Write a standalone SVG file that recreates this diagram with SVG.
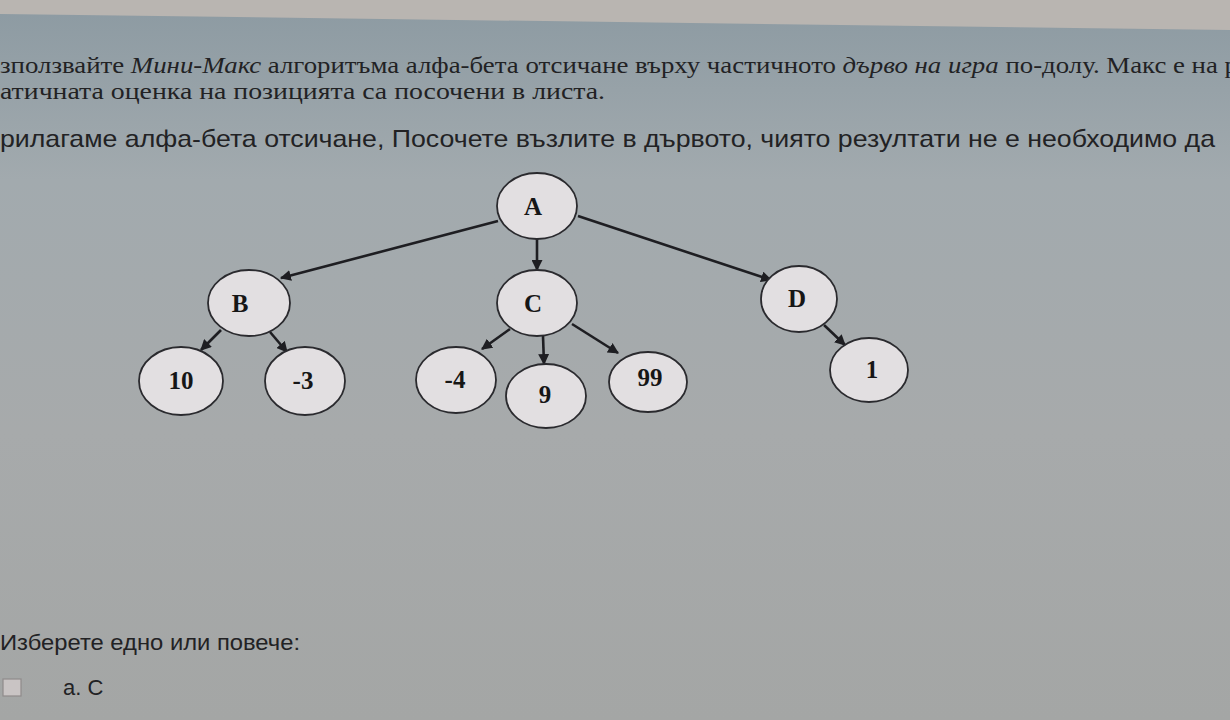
<svg xmlns="http://www.w3.org/2000/svg" width="1230" height="720" viewBox="0 0 1230 720">
  <defs>
    <linearGradient id="bg" x1="0" y1="0" x2="0" y2="1">
      <stop offset="0" stop-color="#8c9aa2"/>
      <stop offset="0.25" stop-color="#a2aaae"/>
      <stop offset="0.6" stop-color="#a7aaab"/>
      <stop offset="1" stop-color="#a4a6a5"/>
    </linearGradient>
    <marker id="arr" viewBox="0 0 10 10" refX="9" refY="5" markerWidth="11" markerHeight="11" markerUnits="userSpaceOnUse" orient="auto">
      <path d="M0,0 L10,5 L0,10 Z" fill="#1e1e22"/>
    </marker>
    <style>
      .node ellipse { fill: #e2dfe1; stroke: #2a2a2e; stroke-width: 1.8; }
      .node text { font-family: "Liberation Serif", "Times New Roman", serif; font-weight: bold; font-size: 25px; fill: #161616; text-anchor: middle; }
      .edge { stroke: #1e1e22; stroke-width: 2.6; fill: none; marker-end: url(#arr); }
      .serif { font-family: "Liberation Serif", "Times New Roman", serif; font-size: 24px; fill: #222224; }
      .sans { font-family: "Liberation Sans", Arial, sans-serif; fill: #222224; }
    </style>
  </defs>

  <rect x="0" y="0" width="1230" height="720" fill="url(#bg)"/>
  <polygon points="0,0 1230,0 1230,30 0,14" fill="#b9b5b1"/>

  <g id="question-text">
    <text class="serif" x="0" y="73" textLength="1238" lengthAdjust="spacingAndGlyphs">зползвайте <tspan font-style="italic">Мини-Макс</tspan> алгоритъма алфа-бета отсичане върху частичното <tspan font-style="italic">дърво на игра</tspan> по-долу. Макс е на р</text>
    <text class="serif" x="0" y="99" textLength="605" lengthAdjust="spacingAndGlyphs">атичната оценка на позицията са посочени в листа.</text>
    <text class="sans" x="0" y="147" font-size="24" textLength="1215" lengthAdjust="spacingAndGlyphs">рилагаме алфа-бета отсичане, Посочете възлите в дървото, чиято резултати не е необходимо да</text>
  </g>

  <g id="connectors">
    <line class="edge" x1="498" y1="221" x2="281" y2="278"/>
    <line class="edge" x1="537" y1="239" x2="537" y2="270"/>
    <line class="edge" x1="578" y1="216" x2="771" y2="280"/>
    <line class="edge" x1="221" y1="330" x2="201" y2="350"/>
    <line class="edge" x1="270" y1="332" x2="287" y2="352"/>
    <line class="edge" x1="510" y1="329" x2="482" y2="349"/>
    <line class="edge" x1="543" y1="336" x2="544" y2="364"/>
    <line class="edge" x1="572" y1="324" x2="618" y2="353"/>
    <line class="edge" x1="824" y1="325" x2="845" y2="345"/>
  </g>

  <g id="node-A" class="node"><ellipse cx="537" cy="206" rx="40" ry="33"/><text x="533" y="215">A</text></g>
  <g id="node-B" class="node"><ellipse cx="249" cy="303" rx="41" ry="33"/><text x="240" y="312">B</text></g>
  <g id="node-C" class="node"><ellipse cx="537" cy="303" rx="40" ry="33"/><text x="533" y="312">C</text></g>
  <g id="node-D" class="node"><ellipse cx="799" cy="299" rx="38" ry="33"/><text x="797" y="307">D</text></g>
  <g id="node-10" class="node"><ellipse cx="181" cy="381" rx="42" ry="34"/><text x="181" y="389">10</text></g>
  <g id="node-m3" class="node"><ellipse cx="305" cy="381" rx="40" ry="34"/><text x="303" y="389">-3</text></g>
  <g id="node-m4" class="node"><ellipse cx="456" cy="380" rx="40" ry="33"/><text x="455" y="388">-4</text></g>
  <g id="node-9" class="node"><ellipse cx="546" cy="396" rx="40" ry="32"/><text x="545" y="403">9</text></g>
  <g id="node-99" class="node"><ellipse cx="648" cy="382" rx="39" ry="30"/><text x="650" y="386">99</text></g>
  <g id="node-1" class="node"><ellipse cx="869" cy="370" rx="39" ry="32"/><text x="872" y="378">1</text></g>

  <g id="answers">
    <text class="sans" x="0" y="650" font-size="22" textLength="300" lengthAdjust="spacingAndGlyphs">Изберете едно или повече:</text>
    <rect x="3" y="679" width="18" height="17" fill="#c9c4c4" stroke="#8f8b8b" stroke-width="1.2"/>
    <text class="sans" x="63" y="695" font-size="22">a. C</text>
  </g>
</svg>
